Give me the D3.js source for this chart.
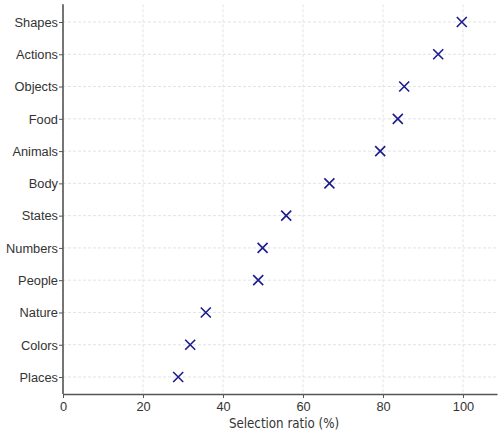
<!DOCTYPE html>
<html>
<head>
<meta charset="utf-8">
<script src="https://cdn.jsdelivr.net/npm/d3@7"></script>
<style>
  body { margin: 0; background: #fff; }
  svg { display: block; font-family: "DejaVu Sans", sans-serif; }
</style>
</head>
<body>
<svg id="chart" width="501" height="435"></svg>
<script>
// categories from bottom to top
const categories = ["Places", "Colors", "Nature", "People", "Numbers", "States",
                    "Body", "Animals", "Food", "Objects", "Actions", "Shapes"];
const ratios = [28.8, 31.8, 35.7, 48.8, 49.9, 55.8, 66.6, 79.3, 83.7, 85.3, 93.8, 99.7];
const xTicks = [0, 20, 40, 60, 80, 100];

const svg = d3.select("#chart");
const plotLeft = 63, plotRight = 497, plotBottom = 394;
const fontSize = "13.5px", squeeze = 0.95;   // text in the picture is a bit narrow

const x = d3.scaleLinear().domain([0, 108.5]).range([plotLeft, plotRight]);
// index scale: Places at 377, Shapes at 22
const y = d3.scaleLinear().domain([0, categories.length - 1]).range([377, 22]);
const plotTop = y(categories.length - 1 + 0.55);

// grid
svg.append("g")
  .selectAll("line")
  .data(xTicks)
  .join("line")
  .attr("x1", d => x(d)).attr("x2", d => x(d))
  .attr("y1", plotTop).attr("y2", plotBottom)
  .attr("stroke", "#dcdcdc")
  .attr("stroke-dasharray", "3,2")
  .attr("stroke-width", 0.8);

svg.append("g")
  .selectAll("line")
  .data(categories)
  .join("line")
  .attr("x1", plotLeft).attr("x2", plotRight)
  .attr("y1", (d, i) => y(i)).attr("y2", (d, i) => y(i))
  .attr("stroke", "#dcdcdc")
  .attr("stroke-dasharray", "3,2")
  .attr("stroke-width", 0.8);

// axes
const xAxis = svg.append("g")
  .attr("transform", `translate(0,${plotBottom})`)
  .call(d3.axisBottom(x).tickValues(xTicks).tickSize(4).tickPadding(3).tickSizeOuter(0));

const yAxis = svg.append("g")
  .attr("transform", `translate(${plotLeft},0)`)
  .call(d3.axisLeft(y).tickValues(d3.range(categories.length))
    .tickFormat(i => categories[i]).tickSize(4).tickPadding(3).tickSizeOuter(0));

[xAxis, yAxis].forEach(g => {
  g.select(".domain").attr("stroke", "#555").attr("stroke-width", 1.6);
  g.selectAll(".tick line").attr("stroke", "#555");
  g.selectAll(".tick text").attr("fill", "#333").style("font-size", fontSize);
});
yAxis.select(".domain").attr("d", `M0,${plotTop}V${plotBottom}`);

xAxis.selectAll(".tick text").attr("transform", `scale(${squeeze},1)`);
yAxis.selectAll(".tick text")
  .attr("x", 0)
  .attr("transform", `translate(-5,0) scale(${squeeze},1)`);

svg.append("text")
  .attr("transform", `translate(284,428) scale(0.88,1)`)
  .attr("text-anchor", "middle")
  .attr("fill", "#333")
  .style("font-size", fontSize)
  .text("Selection ratio (%)");

// markers
const s = 5;
svg.append("g")
  .selectAll("path")
  .data(ratios)
  .join("path")
  .attr("d", (d, i) => {
    const cx = x(d), cy = y(i);
    return `M${cx - s},${cy - s}L${cx + s},${cy + s}M${cx - s},${cy + s}L${cx + s},${cy - s}`;
  })
  .attr("stroke", "#1c1c8c")
  .attr("stroke-width", 1.6)
  .attr("fill", "none");
</script>
</body>
</html>
